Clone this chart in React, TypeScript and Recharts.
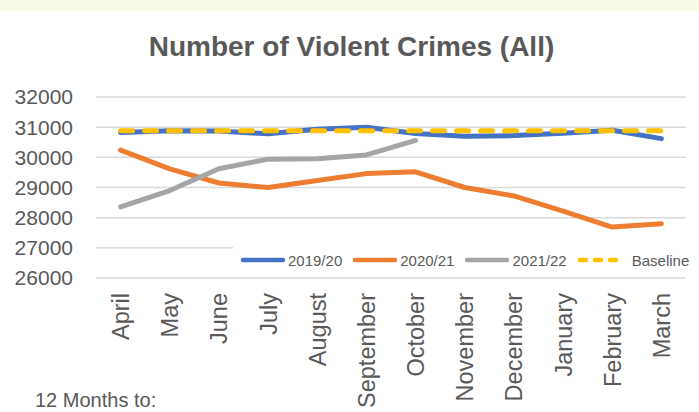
import React from "react";
import { LineChart, Line, XAxis, YAxis, CartesianGrid, Legend } from "recharts";

const months = ["April", "May", "June", "July", "August", "September", "October", "November", "December", "January", "February", "March"];
const s2019 = [30820, 30880, 30870, 30780, 30930, 31000, 30790, 30700, 30720, 30800, 30900, 30620];
const s2020 = [30240, 29620, 29150, 29000, 29230, 29460, 29520, 29000, 28720, 28220, 27690, 27800];
const s2021 = [28360, 28900, 29620, 29940, 29950, 30080, 30560, null, null, null, null, null];
const baseline = [30880, 30880, 30880, 30880, 30880, 30880, 30880, 30880, 30880, 30880, 30880, 30880];
const yTicks = [26000, 27000, 28000, 29000, 30000, 31000, 32000];

const data = months.map((m, i) => ({
  month: m,
  "2019/20": s2019[i],
  "2020/21": s2020[i],
  "2021/22": s2021[i],
  Baseline: baseline[i],
}));

const FONT = "'Liberation Sans', Arial, sans-serif";
const TXT = "#595959";

const MonthTick = (props: any) => {
  const { x, y, payload } = props;
  return (
    <text
      x={x}
      y={y}
      transform={`rotate(-90, ${x}, ${y})`}
      textAnchor="end"
      dy="0.36em"
      fill={TXT}
      fontSize={23.5}
      fontFamily={FONT}
    >
      {payload.value}
    </text>
  );
};

const LegendContent = (props: any) => {
  const { payload } = props;
  return (
    <div style={{ display: "flex", alignItems: "center", background: "#fff", height: 34, paddingLeft: 7, fontFamily: FONT, fontSize: 15, color: TXT }}>
      {payload.map((p: any, i: number) => (
        <div key={i} style={{ display: "flex", alignItems: "center", marginRight: 10 }}>
          <svg width={46} height={10} style={{ display: "block" }}>
            <line
              x1={3}
              y1={5}
              x2={p.value === "Baseline" ? 40 : 43}
              y2={5}
              stroke={p.color}
              strokeWidth={4.5}
              strokeLinecap="round"
              strokeDasharray={p.value === "Baseline" ? "6 9" : undefined}
            />
          </svg>
          <span style={{ marginLeft: p.value === "Baseline" ? 9 : 2 }}>{p.value}</span>
        </div>
      ))}
    </div>
  );
};

export default function App() {
  return (
    <div style={{ position: "absolute", left: 0, top: 0, width: 699, height: 412, background: "#fff", overflow: "hidden" }}>
      <div style={{ position: "absolute", left: 0, top: 0, width: 699, height: 11, background: "#F7FBE8" }} />
      <div
        style={{
          position: "absolute",
          left: 0,
          top: 30,
          width: 703,
          textAlign: "center",
          fontFamily: FONT,
          fontWeight: "bold",
          fontSize: 28,
          color: TXT,
          lineHeight: "34px",
        }}
      >
        Number of Violent Crimes (All)
      </div>
      <div style={{ position: "absolute", left: 35, top: 388, fontFamily: FONT, fontSize: 20, color: TXT, lineHeight: "24px" }}>
        12 Months to:
      </div>
      <div style={{ position: "absolute", left: 0, top: 0 }}>
        <LineChart width={699} height={412} data={data} margin={{ top: 97, right: 13, bottom: 0, left: 0 }}>
          <CartesianGrid vertical={false} stroke="#D9D9D9" strokeWidth={1.5} />
          <XAxis
            dataKey="month"
            interval={0}
            axisLine={false}
            tickLine={false}
            tickSize={0}
            tickMargin={15}
            tick={<MonthTick />}
            height={134}
            padding={{ left: 24.6, right: 24.6 }}
          />
          <YAxis
            domain={[26000, 32000]}
            ticks={yTicks}
            interval={0}
            axisLine={false}
            tickLine={false}
            tickSize={0}
            tickMargin={23}
            width={96}
            tick={{ fill: TXT, fontSize: 21, fontFamily: FONT }}
          />
          <Legend
            layout="horizontal"
            verticalAlign="middle"
            align="center"
            content={<LegendContent />}
            wrapperStyle={{ position: "absolute", left: 233, top: 243, width: 460, height: 34 }}
          />
          <Line dataKey="2019/20" stroke="#4472C4" strokeWidth={5} dot={false} isAnimationActive={false} strokeLinecap="round" strokeLinejoin="round" />
          <Line dataKey="2020/21" stroke="#ED7D31" strokeWidth={5} dot={false} isAnimationActive={false} strokeLinecap="round" strokeLinejoin="round" />
          <Line dataKey="2021/22" stroke="#A5A5A5" strokeWidth={5} dot={false} isAnimationActive={false} strokeLinecap="round" strokeLinejoin="round" />
          <Line dataKey="Baseline" stroke="#FFC000" strokeWidth={5} strokeDasharray="12 12" dot={false} isAnimationActive={false} strokeLinecap="round" />
        </LineChart>
      </div>
    </div>
  );
}
